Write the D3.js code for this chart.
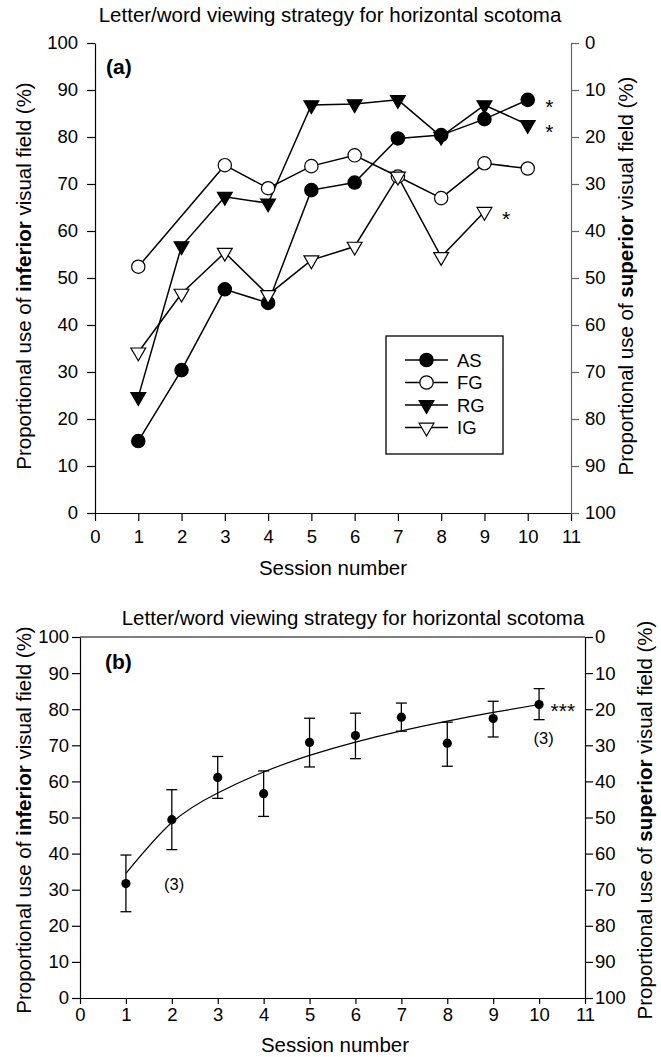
<!DOCTYPE html>
<html>
<head>
<meta charset="utf-8">
<style>
  body { margin: 0; background: #fff; }
  svg { display: block; font-family: "Liberation Sans", Arial, sans-serif; }
  .axis text { font-size: 18.5px; fill: #000; }
  .axis path, .axis line { stroke: #000; stroke-width: 1.2; }
  .axis.gray path, .axis.gray line { stroke: #666; }
</style>
<title>Letter/word viewing strategy for horizontal scotoma</title>
</head>
<body>
<script src="https://cdn.jsdelivr.net/npm/d3@7"></script>
<script>
  // ---- data ----
  var xTicks = [0, 1, 2, 3, 4, 5, 6, 7, 8, 9, 10, 11];
  var yTicks = [0, 10, 20, 30, 40, 50, 60, 70, 80, 90, 100];

  // panel (a): one series per subject
  var asSessions = [1, 2, 3, 4, 5, 6, 7, 8, 9, 10];
  var asVals     = [15.3, 30.4, 47.6, 44.7, 68.7, 70.3, 79.7, 80.4, 83.8, 87.9];
  var fgSessions = [1, 3, 4, 5, 6, 7, 8, 9, 10];
  var fgVals     = [52.4, 74.0, 69.1, 73.8, 76.1, 71.6, 67.0, 74.4, 73.3];
  var rgSessions = [1, 2, 3, 4, 5, 6, 7, 8, 9, 10];
  var rgVals     = [24.7, 56.8, 67.3, 65.9, 86.8, 87.0, 87.9, 80.1, 86.8, 82.6];
  var igSessions = [1, 2, 3, 4, 5, 6, 7, 8, 9];
  var igVals     = [34.2, 46.7, 55.4, 46.4, 53.8, 56.7, 71.6, 54.5, 64.1];
  var starredSeries = ["AS", "RG", "IG"];

  // panel (b): group mean with error bars and fitted curve
  var meanSessions = [1, 2, 3, 4, 5, 6, 7, 8, 9, 10];
  var meanVals  = [31.7, 49.4, 61.1, 56.6, 70.8, 72.7, 77.8, 70.6, 77.4, 81.3];
  var meanUpper = [39.6, 57.7, 66.9, 62.9, 77.5, 78.9, 81.7, 76.4, 82.2, 85.7];
  var meanLower = [23.9, 41.1, 55.3, 50.3, 64.0, 66.3, 73.9, 64.2, 72.3, 77.1];
  var fitVals   = [34.5, 48.6, 56.8, 62.6, 67.2, 70.9, 74.0, 76.7, 79.1, 81.3];
  var nNotes = [{session: 2.05, value: 31.7, label: "(3)"}, {session: 10.1, value: 72.0, label: "(3)"}];

  var title = "Letter/word viewing strategy for horizontal scotoma";

  var width = 661, height = 1057;
  var svg = d3.select("body").append("svg").attr("width", width).attr("height", height);

  function yLabel(g, x, yc, word) {
    var t = g.append("text").attr("transform", "translate(" + x + "," + yc + ") rotate(-90)")
      .attr("text-anchor", "middle").attr("dominant-baseline", "central").style("font-size", "20.5px");
    t.append("tspan").text("Proportional use of ");
    t.append("tspan").style("font-weight", "bold").text(word);
    t.append("tspan").text(" visual field (%)");
  }

  // ================= panel (a) =================
  var xA = d3.scaleLinear().domain([0, 11]).range([95, 571]);
  var yA = d3.scaleLinear().domain([0, 100]).range([513, 43]);
  var yAr = d3.scaleLinear().domain([0, 100]).range([43, 513]);

  var gA = svg.append("g");
  gA.append("text").attr("x", 330).attr("y", 22).attr("text-anchor", "middle")
    .style("font-size", "20.5px").text(title);

  gA.append("g").attr("class", "axis").attr("transform", "translate(0,513)")
    .call(d3.axisBottom(xA).tickValues(xTicks).tickSize(8).tickPadding(9).tickSizeOuter(0));
  gA.append("g").attr("class", "axis").attr("transform", "translate(95,0)")
    .call(d3.axisLeft(yA).tickValues(yTicks).tickSize(8).tickPadding(9).tickSizeOuter(0));
  gA.append("g").attr("class", "axis gray").attr("transform", "translate(571,0)")
    .call(d3.axisRight(yAr).tickValues(yTicks).tickSize(8).tickPadding(6).tickSizeOuter(0));

  gA.append("text").attr("x", 106).attr("y", 74).style("font-size", "21px").style("font-weight", "bold").text("(a)");
  gA.append("text").attr("x", 333).attr("y", 575).attr("text-anchor", "middle").style("font-size", "20.5px").text("Session number");
  yLabel(gA, 23, 276, "inferior");
  yLabel(gA, 625, 276, "superior");

  var series = [
    {name: "AS", xs: asSessions, ys: asVals, shape: "circle", fill: "#000"},
    {name: "FG", xs: fgSessions, ys: fgVals, shape: "circle", fill: "#fff"},
    {name: "RG", xs: rgSessions, ys: rgVals, shape: "tri", fill: "#000"},
    {name: "IG", xs: igSessions, ys: igVals, shape: "tri", fill: "#fff"}
  ];

  var circleSym = d3.symbol().type(d3.symbolCircle).size(140);
  var triSym = d3.symbol().type(d3.symbolTriangle).size(95);
  function marker(sel, s) {
    return sel.append("path").attr("d", s.shape === "circle" ? circleSym() : triSym())
      .attr("fill", s.fill).attr("stroke", "#000").attr("stroke-width", 1.2);
  }

  var line = d3.line().x(function(d) { return xA(d[0]); }).y(function(d) { return yA(d[1]); });
  series.forEach(function(s) {
    var pts = d3.zip(s.xs, s.ys);
    gA.append("path").datum(pts).attr("d", line).attr("fill", "none").attr("stroke", "#000").attr("stroke-width", 1.5);
  });
  series.forEach(function(s) {
    var pts = d3.zip(s.xs, s.ys);
    gA.selectAll(null).data(pts).enter().append("g")
      .attr("transform", function(d) {
        return "translate(" + xA(d[0]) + "," + yA(d[1]) + ")" + (s.shape === "tri" ? " rotate(180)" : "");
      })
      .each(function() { marker(d3.select(this), s); });
    if (starredSeries.indexOf(s.name) >= 0) {
      var last = pts[pts.length - 1];
      gA.append("text").attr("x", xA(last[0] + 0.5)).attr("y", yA(last[1]) + 14)
        .attr("text-anchor", "middle").style("font-size", "21px").text("*");
    }
  });

  // legend
  var lg = gA.append("g");
  lg.append("rect").attr("x", 386).attr("y", 336).attr("width", 117).attr("height", 118)
    .attr("fill", "#fff").attr("stroke", "#000").attr("stroke-width", 1.3);
  series.forEach(function(s, i) {
    var yy = 360 + i * 22.5;
    lg.append("line").attr("x1", 405).attr("x2", 448).attr("y1", yy).attr("y2", yy).attr("stroke", "#000").attr("stroke-width", 1.5);
    var m = lg.append("g").attr("transform", "translate(426.5," + yy + ")" + (s.shape === "tri" ? " rotate(180)" : ""));
    marker(m, s);
    lg.append("text").attr("x", 457).attr("y", yy).attr("dominant-baseline", "central").style("font-size", "18.5px").text(s.name);
  });

  // ================= panel (b) =================
  var xB = d3.scaleLinear().domain([0, 11]).range([80, 585]);
  var yB = d3.scaleLinear().domain([0, 100]).range([998, 637]);
  var yBr = d3.scaleLinear().domain([0, 100]).range([637, 998]);

  var gB = svg.append("g");
  gB.append("text").attr("x", 353).attr("y", 625).attr("text-anchor", "middle").style("font-size", "20.5px").text(title);

  gB.append("line").attr("x1", 80).attr("x2", 585).attr("y1", 637).attr("y2", 637).attr("stroke", "#000").attr("stroke-width", 1.2);
  gB.append("g").attr("class", "axis").attr("transform", "translate(0,998)")
    .call(d3.axisBottom(xB).tickValues(xTicks).tickSize(6).tickPadding(4).tickSizeOuter(0));
  gB.append("g").attr("class", "axis").attr("transform", "translate(80,0)")
    .call(d3.axisLeft(yB).tickValues(yTicks).tickSize(8).tickPadding(3).tickSizeOuter(0));
  gB.append("g").attr("class", "axis").attr("transform", "translate(585,0)")
    .call(d3.axisRight(yBr).tickValues(yTicks).tickSize(8).tickPadding(2).tickSizeOuter(0));

  gB.append("text").attr("x", 105).attr("y", 669).style("font-size", "21px").style("font-weight", "bold").text("(b)");
  gB.append("text").attr("x", 335).attr("y", 1052).attr("text-anchor", "middle").style("font-size", "20.5px").text("Session number");
  yLabel(gB, 23, 820, "inferior");
  yLabel(gB, 644, 820, "superior");

  // fitted curve
  var fitLine = d3.line().curve(d3.curveNatural)
    .x(function(d) { return xB(d[0]); }).y(function(d) { return yB(d[1]); });
  gB.append("path").datum(d3.zip(meanSessions, fitVals)).attr("d", fitLine)
    .attr("fill", "none").attr("stroke", "#000").attr("stroke-width", 1.2);

  // error bars
  var bars = d3.zip(meanSessions, meanVals, meanUpper, meanLower);
  var eb = gB.selectAll(null).data(bars).enter().append("g");
  eb.append("line").attr("x1", function(d) { return xB(d[0]); }).attr("x2", function(d) { return xB(d[0]); })
    .attr("y1", function(d) { return yB(d[2]); }).attr("y2", function(d) { return yB(d[3]); })
    .attr("stroke", "#000").attr("stroke-width", 1.3);
  [2, 3].forEach(function(k) {
    eb.append("line").attr("x1", function(d) { return xB(d[0]) - 5.5; }).attr("x2", function(d) { return xB(d[0]) + 5.5; })
      .attr("y1", function(d) { return yB(d[k]); }).attr("y2", function(d) { return yB(d[k]); })
      .attr("stroke", "#000").attr("stroke-width", 1.3);
  });
  eb.append("circle").attr("cx", function(d) { return xB(d[0]); }).attr("cy", function(d) { return yB(d[1]); })
    .attr("r", 4.6).attr("fill", "#000");

  gB.append("text").attr("x", xB(10.25)).attr("y", yB(81.3) + 13).style("font-size", "21px").text("***");
  gB.selectAll(null).data(nNotes).enter().append("text")
    .attr("x", function(d) { return xB(d.session); }).attr("y", function(d) { return yB(d.value); })
    .attr("text-anchor", "middle").attr("dominant-baseline", "central").style("font-size", "16.5px")
    .text(function(d) { return d.label; });
</script>
</body>
</html>
